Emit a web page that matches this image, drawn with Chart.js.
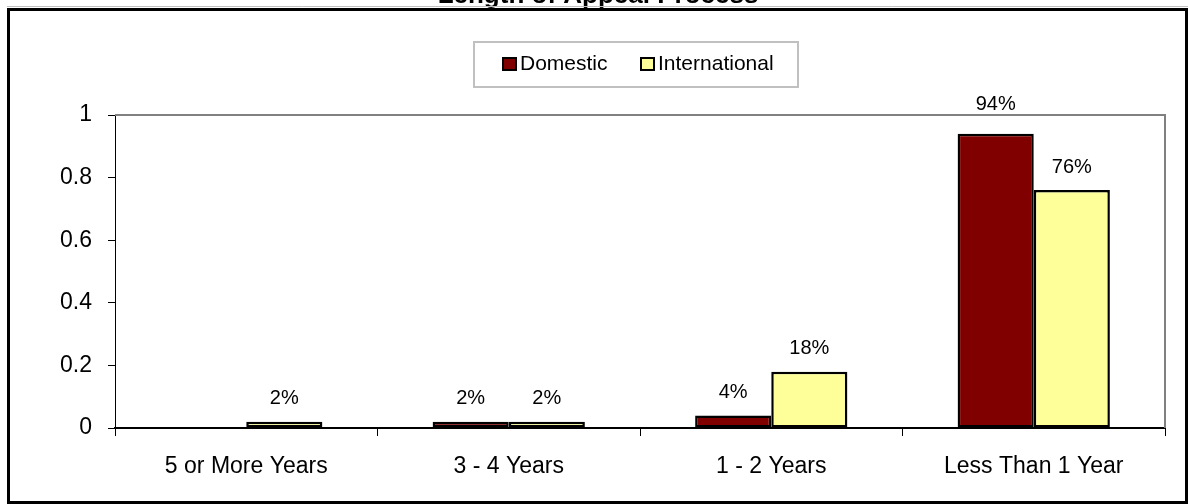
<!DOCTYPE html>
<html>
<head>
<meta charset="utf-8">
<title>Length of Appeal Process</title>
<script src="https://cdn.jsdelivr.net/npm/chart.js@4.4.1/dist/chart.umd.min.js"></script>
<style>
  html, body { margin: 0; padding: 0; background: #fff; }
  canvas { display: block; }
</style>
</head>
<body>
<canvas id="appealChart" width="1188" height="504"></canvas>
<script>
// --- data ---
const categories = ['5 or More Years', '3 - 4 Years', '1 - 2 Years', 'Less Than 1 Year'];
const domestic = [0, 0.02, 0.04, 0.94];
const international = [0.02, 0.02, 0.18, 0.76];
const yTicks = [0, 0.2, 0.4, 0.6, 0.8, 1];
const chartTitle = 'Length of Appeal Process';

const FONT = 'Arial, "Liberation Sans", sans-serif';

// frame, title, custom legend box, top/right plot border
const decorations = {
  id: 'decorations',
  beforeDraw(chart) {
    const ctx = chart.ctx;
    ctx.save();
    ctx.fillStyle = '#fff';
    ctx.fillRect(0, 0, chart.width, chart.height);

    // title (cut off at top like the reference)
    ctx.fillStyle = '#000';
    ctx.font = 'bold 26px ' + FONT;
    ctx.textAlign = 'center';
    ctx.textBaseline = 'alphabetic';
    ctx.fillText(chartTitle, 598, 3);

    // outer frame
    ctx.strokeStyle = '#c0c0c0';
    ctx.lineWidth = 1;
    ctx.beginPath();
    ctx.moveTo(7, 6.5);
    ctx.lineTo(chart.width, 6.5);
    ctx.stroke();
    ctx.strokeStyle = '#000';
    ctx.lineWidth = 3;
    ctx.strokeRect(8.5, 9.5, 1178, 493);

    // legend
    ctx.strokeStyle = '#c0c0c0';
    ctx.lineWidth = 2;
    ctx.strokeRect(474, 42, 324, 45);
    ctx.font = '21px ' + FONT;
    ctx.textAlign = 'left';
    ctx.textBaseline = 'middle';
    const items = [
      { x: 503, ds: chart.data.datasets[0] },
      { x: 641, ds: chart.data.datasets[1] }
    ];
    items.forEach(it => {
      ctx.fillStyle = it.ds.backgroundColor;
      ctx.fillRect(it.x, 58, 13, 12);
      ctx.strokeStyle = '#000';
      ctx.lineWidth = 2;
      ctx.strokeRect(it.x, 58, 13, 12);
      ctx.fillStyle = '#000';
      ctx.fillText(it.ds.label, it.x + 17, 64);
    });
    ctx.restore();
  },
  beforeDatasetsDraw(chart) {
    const { ctx, chartArea: a } = chart;
    ctx.save();
    ctx.strokeStyle = '#808080';
    ctx.lineWidth = 2;
    ctx.beginPath();
    ctx.moveTo(a.left, a.top);
    ctx.lineTo(a.right, a.top);
    ctx.lineTo(a.right, a.bottom);
    ctx.stroke();
    ctx.restore();
  }
};

// percentage labels above the bars
const barLabels = {
  id: 'barLabels',
  afterDatasetsDraw(chart) {
    const ctx = chart.ctx;
    ctx.save();
    ctx.fillStyle = '#000';
    ctx.font = '20px ' + FONT;
    ctx.textAlign = 'center';
    ctx.textBaseline = 'middle';
    chart.data.datasets.forEach((ds, i) => {
      chart.getDatasetMeta(i).data.forEach((bar, j) => {
        const v = ds.data[j];
        if (!v) return;
        const lift = v > 0.9 ? 29 : 23;
        ctx.fillText(Math.round(v * 100) + '%', bar.x, bar.y - lift);
      });
    });
    ctx.restore();
  }
};

new Chart(document.getElementById('appealChart'), {
  type: 'bar',
  data: {
    labels: categories,
    datasets: [
      {
        label: 'Domestic',
        data: domestic,
        backgroundColor: '#800000',
        borderColor: '#000',
        borderWidth: 2.5,
        borderSkipped: false,
        categoryPercentage: 0.58,
        barPercentage: 1
      },
      {
        label: 'International',
        data: international,
        backgroundColor: '#ffff99',
        borderColor: '#000',
        borderWidth: 2.5,
        borderSkipped: false,
        categoryPercentage: 0.58,
        barPercentage: 1
      }
    ]
  },
  options: {
    responsive: false,
    animation: false,
    layout: { padding: { top: 115, right: 23, bottom: 0, left: 0 } },
    plugins: {
      legend: { display: false },
      title: { display: false },
      tooltip: { enabled: false }
    },
    scales: {
      x: {
        afterFit(scale) { scale.height = 76; },
        grid: {
          offset: true,
          drawOnChartArea: false,
          color: '#000',
          tickLength: 8,
          lineWidth: 1
        },
        border: { color: '#000', width: 2 },
        ticks: {
          color: '#000',
          padding: 17,
          font: { family: FONT, size: 23 }
        }
      },
      y: {
        min: 0,
        max: 1,
        afterFit(scale) { scale.width = 115; },
        afterBuildTicks(scale) { scale.ticks = yTicks.map(v => ({ value: v })); },
        grid: {
          drawOnChartArea: false,
          color: '#000',
          tickLength: 7,
          lineWidth: 1
        },
        border: { color: '#000', width: 1 },
        ticks: {
          color: '#000',
          padding: 16,
          font: { family: FONT, size: 23 },
          callback: v => String(v)
        }
      }
    }
  },
  plugins: [decorations, barLabels]
});
</script>
</body>
</html>
